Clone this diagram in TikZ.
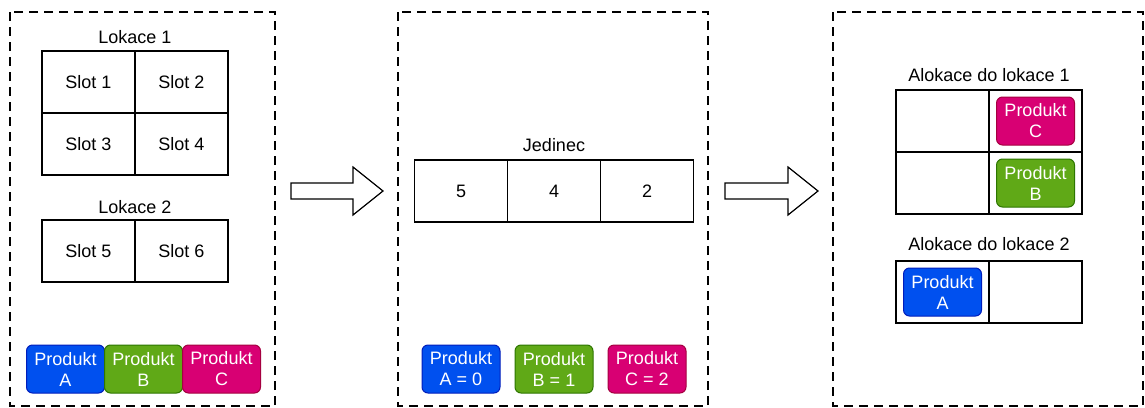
\documentclass[tikz,border=0pt]{standalone}
\usepackage{fontspec}
\setmainfont{Liberation Sans}
\usetikzlibrary{positioning}
\definecolor{prodblue}{HTML}{0050EF}
\definecolor{prodblueline}{HTML}{001DBC}
\definecolor{prodgreen}{HTML}{60A917}
\definecolor{prodgreenline}{HTML}{2D7600}
\definecolor{prodpink}{HTML}{D80073}
\definecolor{prodpinkline}{HTML}{A50040}
\tikzset{
  panel/.style ={line width=2.5pt, dash pattern=on 9pt off 6pt},
  cell/.style  ={draw, line width=1.5pt, minimum width=93pt, minimum height=62pt, inner sep=0pt, outer sep=0pt},
  lbl/.style   ={inner sep=0pt},
  prod/.style  ={rounded corners=6pt, line width=1pt, text=white, align=center,
                 minimum width=78pt, minimum height=48pt, inner sep=0pt, outer sep=0pt},
  prodA/.style ={prod, fill=prodblue, draw=prodblueline},
  prodB/.style ={prod, fill=prodgreen, draw=prodgreenline},
  prodC/.style ={prod, fill=prodpink, draw=prodpinkline},
  blockarrow/.style={line width=1.2pt, fill=white, line join=miter},
}

\begin{document}
\begin{tikzpicture}[x=1pt, y=-1pt, font=\fontsize{18}{21}\selectfont]
  \useasboundingbox[fill=white] (0,0) rectangle (1145,407);

  % left
  \draw[panel] (10,12) rectangle (275,406);
  \node[lbl] (lok1) at (135,37) {Lokace 1};
  \node[cell] (s1) at (88.5,82) {Slot 1};
  \node[cell, anchor=west] (s2) at (s1.east) {Slot 2};
  \node[cell, anchor=north] (s3) at (s1.south) {Slot 3};
  \node[cell, anchor=west] (s4) at (s3.east) {Slot 4};

  \node[lbl] (lok2) at (135,207) {Lokace 2};
  \node[cell] (s5) at (88.5,251) {Slot 5};
  \node[cell, anchor=west] (s6) at (s5.east) {Slot 6};

  \node[prodA] (pa) at (65.5,369) {Produkt\\A};
  \node[prodB, anchor=west] (pb) at (pa.east) {Produkt\\B};
  \node[prodC, anchor=west] (pc) at (pb.east) {Produkt\\C};

  % arrows
  \foreach \ax/\hx in {291/62,725/63}
    \draw[blockarrow] (\ax,183) -- ++(\hx,0) -- ++(0,-16) -- ++(30,24)
      -- ++(-30,24) -- ++(0,-16) -- ++(-\hx,0) -- cycle;

  % middle
  \draw[panel] (398,12) rectangle (708,406);
  \node[lbl] (jed) at (554,145) {Jedinec};
  \node[cell] (j1) at (461,191) {5};
  \node[cell, anchor=west] (j2) at (j1.east) {4};
  \node[cell, anchor=west] (j3) at (j2.east) {2};

  \node[prodA] (ma) at (461,369) {Produkt\\A = 0};
  \node[prodB, right=15pt of ma] (mb) {Produkt\\B = 1};
  \node[prodC, right=15pt of mb] (mc) {Produkt\\C = 2};

  % right
  \draw[panel] (833,12) rectangle (1143,406);
  \node[lbl] (alo1) at (989,75) {Alokace do lokace 1};
  \node[cell] (a1) at (942.5,121) {};
  \node[cell, anchor=west] (a2) at (a1.east) {};
  \node[cell, anchor=north] (a3) at (a1.south) {};
  \node[cell, anchor=west] (a4) at (a3.east) {};

  \node[lbl] (alo2) at (989,244) {Alokace do lokace 2};
  \node[cell] (a5) at (942.5,292) {};
  \node[cell, anchor=west] (a6) at (a5.east) {};

  \node[prodC] (rc) at (a2) {Produkt\\C};
  \node[prodB] (rb) at (a4) {Produkt\\B};
  \node[prodA] (ra) at (a5) {Produkt\\A};
\end{tikzpicture}
\end{document}
